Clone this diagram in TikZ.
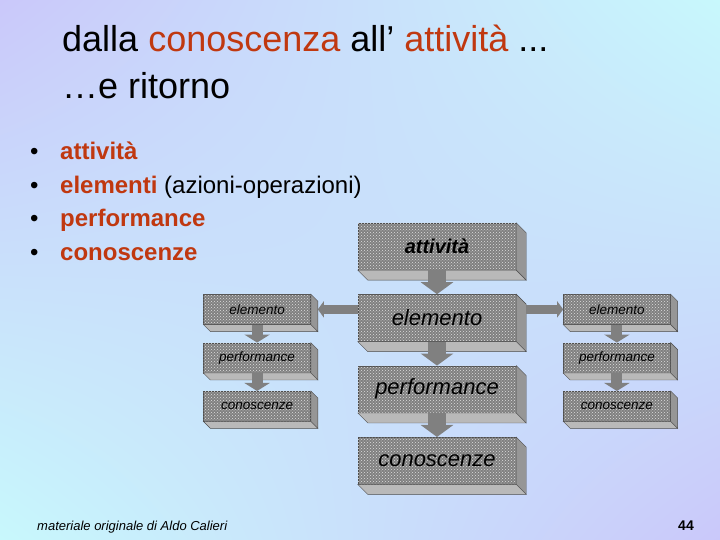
\documentclass[tikz,border=0pt]{standalone}
\usepackage{fontspec}
\setmainfont{Liberation Sans}
\usetikzlibrary{positioning,calc,arrows.meta,patterns,shadings}
\definecolor{rosso}{RGB}{192,56,16}
\definecolor{lilla}{RGB}{202,200,250}
\definecolor{ciano}{RGB}{200,248,252}
\definecolor{grigio}{RGB}{128,128,128}
\definecolor{lato}{RGB}{150,150,150}
\definecolor{fondo}{RGB}{185,185,185}

\begin{document}
\begin{tikzpicture}[x=1pt,y=1pt,node distance=24pt,
    blocco/.style={draw=black!70, fill=grigio,
      postaction={pattern=crosshatch dots, pattern color=white!75!gray},
      minimum width=158pt, minimum height=47pt, inner sep=0pt,
      font=\fontsize{22}{24}\selectfont\itshape},
    piccolo/.style={blocco, minimum width=107pt, minimum height=30pt,
      font=\fontsize{13.5}{15}\selectfont\itshape},
    freccia/.style={draw=grigio, line width=18pt, -{Triangle[width=32pt,length=12pt]}},
    frecciola/.style={draw=grigio, line width=11pt, -{Triangle[width=25pt,length=8pt]}},
    laterale/.style={draw=grigio, line width=9pt, -{Triangle[width=16pt,length=6pt]}},
    testo/.style={anchor=base west, inner sep=0pt},
    voce/.style={testo, font=\fontsize{24}{26}\selectfont}]

  %Background%
  \shade[upper left=lilla, upper right=ciano, lower left=ciano, lower right=lilla]
    (0,0) rectangle (720,540);

  %Title%
  \node[testo, font=\fontsize{36}{40}\selectfont] (titolo) at (62,488)
    {dalla \textcolor{rosso}{conoscenza} all’ \textcolor{rosso}{attività} ...};
  \node[testo, font=\fontsize{36}{40}\selectfont] (ritorno) at (62,441) {…e ritorno};

  %List%
  \foreach \y in {380,346,313,279}
    \node[voce] (p\y) at (30,\y) {•};
  \node[voce] (v1) at (60,380) {\textbf{\textcolor{rosso}{attività}}};
  \node[voce] (v2) at (60,346) {\textbf{\textcolor{rosso}{elementi}} (azioni-operazioni)};
  \node[voce] (v3) at (60,313) {\textbf{\textcolor{rosso}{performance}}};
  \node[voce] (v4) at (60,279) {\textbf{\textcolor{rosso}{conoscenze}}};

  %Boxes%
  \node[blocco, font=\fontsize{20}{22}\selectfont\bfseries\itshape] (att) at (437,293.5) {attività};
  \node[blocco] (cel) [below=of att] {elemento};
  \node[blocco] (cpe) [below=of cel] {performance};
  \node[blocco] (cco) [below=of cpe] {conoscenze};

  \node[piccolo] (lel) [left=47pt of cel.north west, anchor=north east] {elemento};
  \node[piccolo] (lpe) [below=18pt of lel] {performance};
  \node[piccolo] (lco) [below=18pt of lpe] {conoscenze};

  \node[piccolo] (rel) [right=47pt of cel.north east, anchor=north west] {elemento};
  \node[piccolo] (rpe) [below=18pt of rel] {performance};
  \node[piccolo] (rco) [below=18pt of rpe] {conoscenze};

  \foreach \n/\d in {att/10,cel/10,cpe/10,cco/10,lel/7,lpe/7,lco/7,rel/7,rpe/7,rco/7} {
    \filldraw[fill=lato, draw=black!70] (\n.north east) -- ++(\d,-\d)
      -- ($(\n.south east)+(\d,-\d)$) -- (\n.south east) -- cycle;
    \filldraw[fill=fondo, draw=black!70] (\n.south west) -- ++(\d,-\d)
      -- ($(\n.south east)+(\d,-\d)$) -- (\n.south east) -- cycle;
  }

  %Arrows%
  \draw[freccia] (att) -- (cel);
  \draw[freccia] (cel) -- (cpe);
  \draw[freccia] (cpe) -- (cco);
  \draw[frecciola] (lel) -- (lpe);
  \draw[frecciola] (lpe) -- (lco);
  \draw[frecciola] (rel) -- (rpe);
  \draw[frecciola] (rpe) -- (rco);
  \draw[laterale, shorten >=7pt] (cel.west |- lel.east) -- (lel.east);
  \draw[laterale, shorten <=10pt] (cel.east |- rel.west) -- (rel.west);

  %Footer%
  \node[testo, font=\fontsize{13}{14}\selectfont\itshape] (nota) at (37,9)
    {materiale originale di Aldo Calieri};
  \node[anchor=base east, inner sep=0pt, font=\fontsize{14}{16}\selectfont\bfseries] (pagina) at (694,9) {44};
\end{tikzpicture}
\end{document}
